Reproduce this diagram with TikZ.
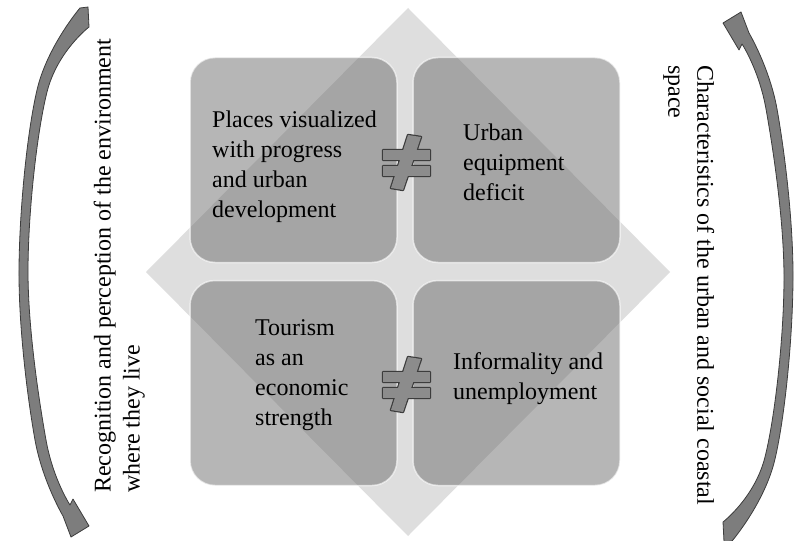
\documentclass[tikz,border=0pt]{standalone}
\usepackage{fontspec}
\setmainfont{Liberation Serif}
\usetikzlibrary{positioning, calc}

\definecolor{diamondgray}{RGB}{222,222,222}
\definecolor{tilegray}{RGB}{110,110,110}
\definecolor{arrowgray}{RGB}{125,125,125}
\definecolor{edgegray}{RGB}{60,60,60}
\definecolor{signgray}{RGB}{140,140,140}

\tikzset{
	tile/.style={rounded corners=25pt, minimum width=207pt, minimum height=205pt, inner sep=0pt,
		fill=tilegray, fill opacity=0.5, draw=white, draw opacity=0.6, line width=1.5pt},
	tiletext/.style={anchor=north west, inner sep=0pt, align=left, font=\fontsize{24}{30}\selectfont},
	sidetext/.style={anchor=north west, inner sep=0pt, align=left, font=\fontsize{24}{29}\selectfont},
	swoosh/.style={fill=arrowgray, draw=edgegray, line width=0.8pt, line join=round},
}

\begin{document}
\begin{tikzpicture}[x=1pt,y=-1pt]
			\useasboundingbox (0,0) rectangle (799,540);
			\fill[diamondgray] (408,8) -- (670,272) -- (408,536) -- (146,272) -- cycle;
			\node[tile] (TL) at (293.5,160) {};
			\node[tile] (TR) at (516.5,160) {};
			\node[tile] (BL) at (293.5,383) {};
			\node[tile] (BR) at (516.5,383) {};
			\node[tiletext] (TLtext) at (212,111) {Places visualized\\with progress\\and urban\\development};
			\node[tiletext] (TRtext) at (463,124) {Urban\\equipment\\deficit};
			\node[tiletext] (BLtext) at (255,319) {Tourism\\as an\\economic\\strength};
			\node[tiletext] (BRtext) at (453,352) {Informality and\\unemployment};
			%not equal signs between the tiles
			\foreach \y in {163,385} {
				\begin{scope}[shift={(407,\y)}]
					\draw[edgegray, line width=2.4pt, line join=round] (-24,-13) rectangle (23,-3) (-24,3) rectangle (23,13) (1,-28) -- (14,-26) -- (-4,27) -- (-16,25) -- cycle;
					\fill[signgray] (-24,-13) rectangle (23,-3);
					\fill[signgray] (-24,3) rectangle (23,13);
					\fill[signgray] (1,-28) -- (14,-26) -- (-4,27) -- (-16,25) -- cycle;
				\end{scope}
			}
			%curved arrows at the sides
			\draw[swoosh] plot[smooth, tension=0.6] coordinates {(80,8) (37,90) (19,270) (35,440) (63,516)} -- (71,537) -- (89,526) -- (73,499) -- (70,505)
				-- plot[smooth, tension=0.6] coordinates {(70,505) (46,440) (28,270) (47,92) (89,27)} -- (88,7) -- cycle;
			\begin{scope}[rotate around={180:(406,274.5)}]
				\draw[swoosh] plot[smooth, tension=0.6] coordinates {(80,8) (37,90) (19,270) (35,440) (63,516)} -- (71,537) -- (89,526) -- (73,499) -- (70,505)
					-- plot[smooth, tension=0.6] coordinates {(70,505) (46,440) (28,270) (47,92) (89,27)} -- (88,7) -- cycle;
			\end{scope}
			\node[sidetext, rotate=90] (left) at (93.6,493) {Recognition and perception of the environment\\where they live};
			\node[sidetext, rotate=-90] (right) at (714.4,65) {Characteristics of the urban and social coastal\\space};
\end{tikzpicture}
\end{document}
